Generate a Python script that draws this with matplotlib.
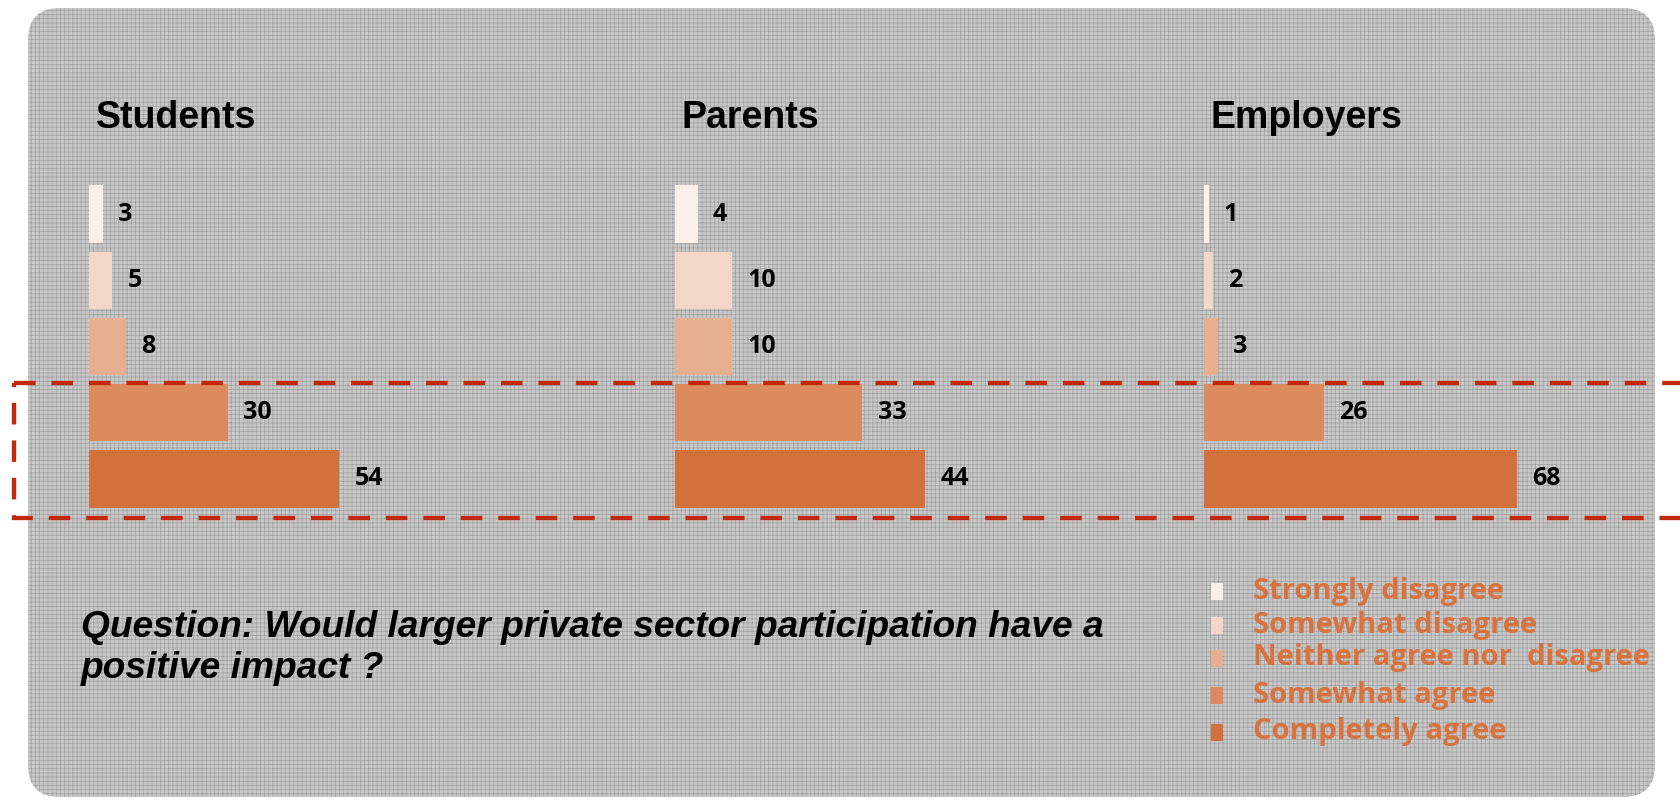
import numpy as np
import matplotlib
matplotlib.use("Agg")
import matplotlib.pyplot as plt
from matplotlib.patches import FancyBboxPatch, Rectangle

# data
groups = ["Students", "Parents", "Employers"]
answers = ["Strongly disagree", "Somewhat disagree", "Neither agree nor  disagree",
           "Somewhat agree", "Completely agree"]
students = [3, 5, 8, 30, 54]
parents = [4, 10, 10, 33, 44]
employers = [1, 2, 3, 26, 68]
values = [students, parents, employers]
colors = ["#fbefe9", "#f3d7c9", "#e6af90", "#dc8b5e", "#d2713b"]
question = "Question: Would larger private sector participation have a\npositive impact ?"

plt.rcParams["hatch.linewidth"] = 0.5

W, H = 1681, 800
fig = plt.figure(figsize=(W / 100, H / 100), dpi=100)

# background axes in pixel coords
bg = fig.add_axes([0, 0, 1, 1])
bg.set_xlim(0, W)
bg.set_ylim(H, 0)
bg.axis("off")
box = FancyBboxPatch((28, 8), 1627, 789, boxstyle="round,pad=0,rounding_size=32",
                     facecolor="#c8c8c8", edgecolor="#a0a0a0", hatch="++++", lw=0)
bg.add_patch(box)

# panels: left pixel, px per unit
lefts = [89, 675, 1204]
scales = [4.63, 5.68, 4.6]
ax_w = 420
top, bot = 181, 512
for g, vals, left, sc in zip(groups, values, lefts, scales):
    ax = fig.add_axes([left / W, 1 - bot / H, ax_w / W, (bot - top) / H])
    ax.set_xlim(0, ax_w / sc)
    ax.set_ylim(4.5, -0.5)
    ax.axis("off")
    y = np.arange(len(vals))
    ax.barh(y, vals, height=0.87, color=colors)
    for yi, v in zip(y, vals):
        ax.annotate(str(v), (v, yi), xytext=(11, 0), textcoords="offset points",
                    va="center", ha="left", fontsize=18, fontweight="bold",
                    family="Open Sans", color="black")
    bg.text(left + 7, 118, g, fontsize=27, fontweight="bold",
            family="Liberation Sans", va="center", ha="left")

# dashed highlight box over the agree rows
hl = Rectangle((14, 383), 1800, 135, fill=False, edgecolor="#c1280c", lw=3.1,
               linestyle=(0, (5, 3.7)), transform=bg.transData, zorder=5)
fig.add_artist(hl)

bg.text(81, 678, question, fontsize=26.7, fontweight="bold", style="italic",
        family="Liberation Sans", va="baseline", ha="left", linespacing=1.22)

# legend
leg_y = [591, 625, 658, 695, 732]
for lab, c, ly in zip(answers, colors, leg_y):
    bg.add_patch(Rectangle((1211, ly - 8), 12, 17, facecolor=c, edgecolor="none"))
    bg.text(1253, ly, lab, fontsize=21, fontweight="bold", family="Open Sans",
            color="#d9733e", va="center", ha="left")

fig.savefig("out.png", dpi=100)
